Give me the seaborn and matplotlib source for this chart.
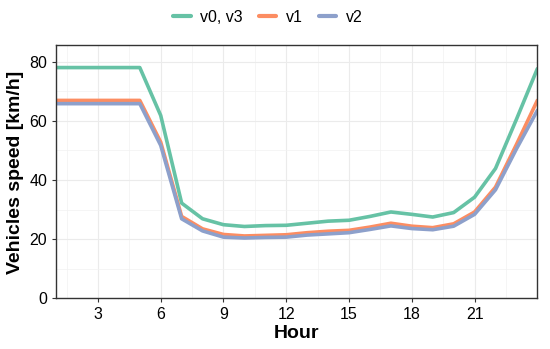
import matplotlib.pyplot as plt
import pandas as pd
import seaborn as sns
from matplotlib.ticker import MultipleLocator, FixedLocator

# Data
hours = list(range(1, 25))
v0_v3 = [78, 78, 78, 78, 78, 61.8, 32.2, 26.9, 24.9, 24.3, 24.6, 24.7,
         25.4, 26.1, 26.4, 27.7, 29.2, 28.4, 27.5, 29.0, 34.2, 43.9, 60.5, 77.6]
v1 = [66.9, 66.9, 66.9, 66.9, 66.9, 52.8, 27.7, 23.5, 21.6, 21.1, 21.3, 21.5,
      22.2, 22.7, 23.0, 24.1, 25.4, 24.4, 23.9, 25.2, 29.2, 37.6, 52.0, 66.9]
v2 = [65.8, 65.8, 65.8, 65.8, 65.8, 51.7, 26.9, 22.8, 20.7, 20.4, 20.6, 20.7,
      21.4, 21.8, 22.2, 23.3, 24.5, 23.6, 23.2, 24.4, 28.4, 36.7, 50.5, 63.5]
series_names = ["v0, v3", "v1", "v2"]
x_ticks = [3, 6, 9, 12, 15, 18, 21]

df = pd.DataFrame({
    "Hour": hours * 3,
    "speed": v0_v3 + v1 + v2,
    "version": [series_names[0]] * 24 + [series_names[1]] * 24 + [series_names[2]] * 24,
})

sns.set_style("white")
plt.rcParams['font.family'] = ['Liberation Sans', 'DejaVu Sans']
plt.rcParams['text.color'] = 'black'
plt.rcParams['axes.labelcolor'] = 'black'

fig, ax = plt.subplots(figsize=(5.5, 3.49), dpi=100)
palette = ["#66C2A5", "#FC8D62", "#8DA0CB"]
sns.lineplot(data=df, x="Hour", y="speed", hue="version", palette=palette,
             linewidth=2.6, ax=ax)

ax.set_xlim(1, 24)
ax.set_ylim(0, 85.5)
ax.xaxis.set_major_locator(FixedLocator(x_ticks))
ax.xaxis.set_minor_locator(MultipleLocator(1.5))
ax.yaxis.set_major_locator(MultipleLocator(20))
ax.yaxis.set_minor_locator(MultipleLocator(10))
ax.grid(True, which="major", color="#EBEBEB", linewidth=0.8)
ax.grid(True, which="minor", color="#F2F2F2", linewidth=0.5)
ax.set_axisbelow(True)
for s in ax.spines.values():
    s.set_color("#333333")
    s.set_linewidth(1.0)
ax.tick_params(axis="both", which="major", length=3, color="#333333",
               labelsize=11.5, labelcolor="black", direction="out",
               bottom=True, left=True)
ax.tick_params(axis="both", which="minor", length=0)

ax.set_xlabel("Hour", fontsize=14, fontweight="bold", labelpad=2, color="black")
ax.set_ylabel("Vehicles speed [km/h]", fontsize=14, fontweight="bold", color="black")

handles, labels = ax.get_legend_handles_labels()
leg = ax.legend(handles, labels, loc="lower center", bbox_to_anchor=(0.44, 1.055),
                ncol=3, frameon=False, fontsize=11.5, handlelength=1.1,
                columnspacing=1.0, handletextpad=0.6, borderaxespad=0)
for line in leg.get_lines():
    line.set_linewidth(3)
for t in leg.get_texts():
    t.set_color("black")

fig.subplots_adjust(left=0.102, right=0.977, top=0.87, bottom=0.145)
fig.savefig("out.png", dpi=100)
